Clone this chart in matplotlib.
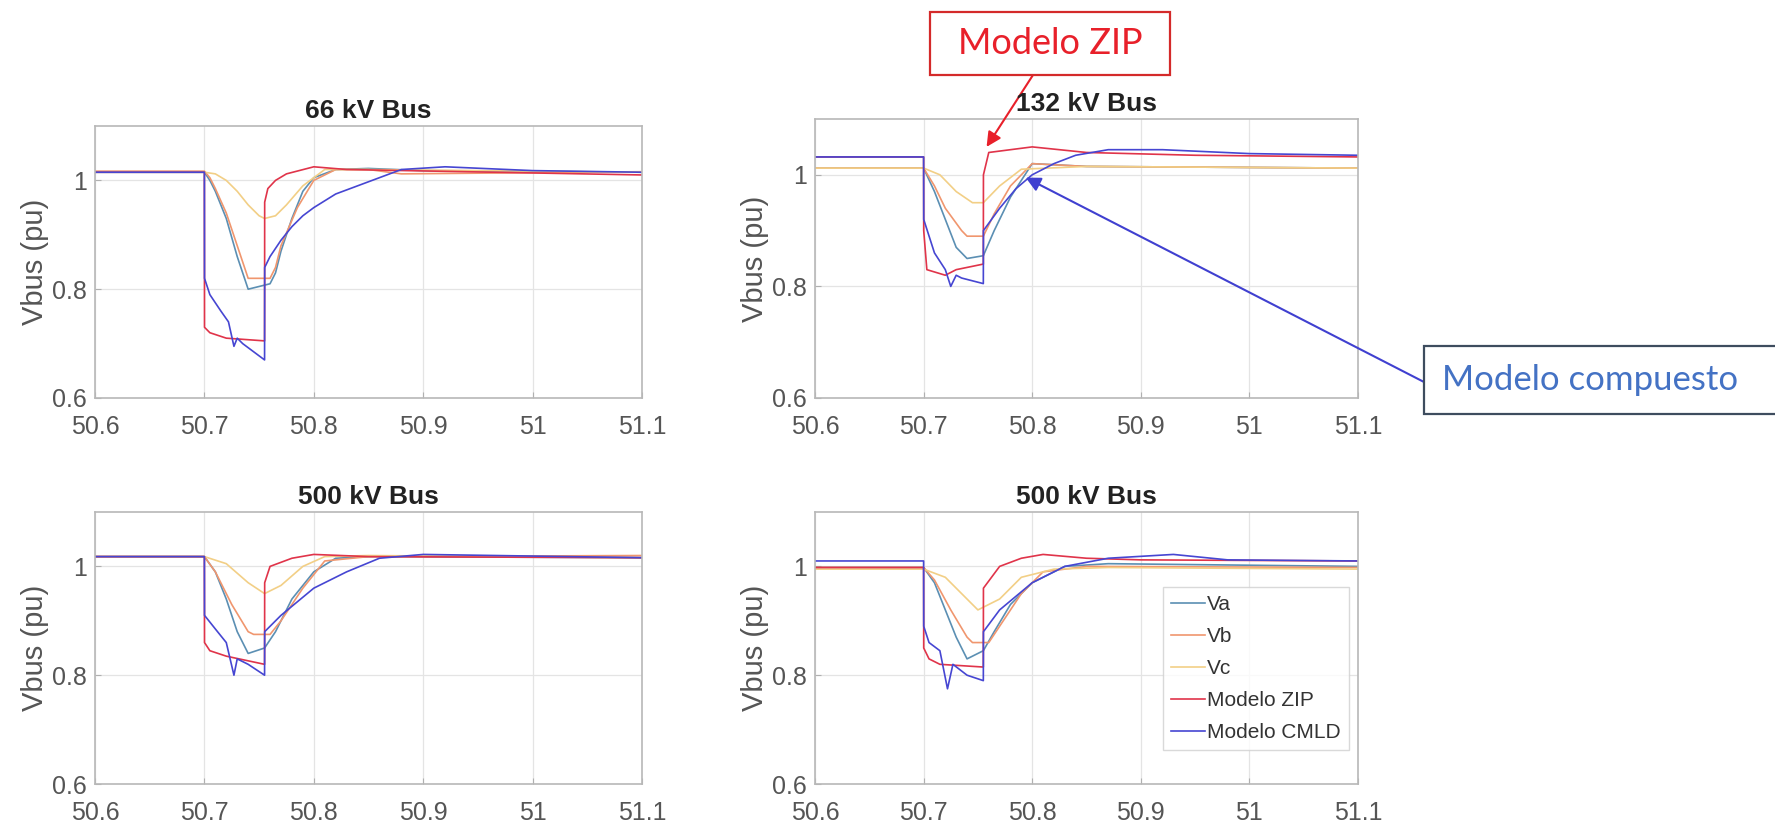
import numpy as np
import matplotlib
matplotlib.use("Agg")
import matplotlib.pyplot as plt
from matplotlib.patches import Rectangle

plt.rcParams['font.family'] = ['Liberation Sans', 'DejaVu Sans']

# series names and colours (legend order)
names = ['Va', 'Vb', 'Vc', 'Modelo ZIP', 'Modelo CMLD']
colors = ['#5b8fb3', '#f0966e', '#f2cf86', '#e0344a', '#4646d2']

# --- 66 kV bus ---
t66 = {
    'Va':   [50.6, 50.70, 50.705, 50.71, 50.72, 50.73, 50.735, 50.74, 50.76, 50.765, 50.77, 50.78, 50.79, 50.80, 50.82, 50.85, 50.90, 51.1],
    'Vb':   [50.6, 50.70, 50.705, 50.71, 50.72, 50.73, 50.735, 50.74, 50.76, 50.765, 50.77, 50.785, 50.80, 50.82, 50.85, 50.88, 51.1],
    'Vc':   [50.6, 50.70, 50.71, 50.72, 50.73, 50.74, 50.75, 50.755, 50.765, 50.775, 50.79, 50.81, 50.85, 51.1],
    'ZIP':  [50.6, 50.70, 50.7001, 50.705, 50.72, 50.755, 50.7551, 50.758, 50.765, 50.775, 50.80, 50.83, 51.1],
    'CMLD': [50.6, 50.70, 50.7001, 50.705, 50.715, 50.722, 50.727, 50.73, 50.735, 50.755, 50.7551, 50.76, 50.77, 50.78, 50.79, 50.80, 50.82, 50.84, 50.86, 50.88, 50.92, 51.0, 51.1],
}
v66 = {
    'Va':   [1.015, 1.015, 1.0, 0.98, 0.93, 0.86, 0.83, 0.80, 0.81, 0.83, 0.87, 0.93, 0.98, 1.005, 1.02, 1.022, 1.018, 1.015],
    'Vb':   [1.017, 1.017, 1.005, 0.985, 0.94, 0.88, 0.85, 0.82, 0.82, 0.84, 0.88, 0.95, 1.00, 1.02, 1.02, 1.012, 1.016],
    'Vc':   [1.015, 1.015, 1.012, 1.0, 0.98, 0.955, 0.935, 0.93, 0.935, 0.955, 0.99, 1.02, 1.02, 1.015],
    'ZIP':  [1.015, 1.015, 0.73, 0.72, 0.71, 0.705, 0.96, 0.985, 1.0, 1.012, 1.025, 1.02, 1.01],
    'CMLD': [1.015, 1.015, 0.82, 0.79, 0.76, 0.74, 0.695, 0.71, 0.70, 0.67, 0.84, 0.86, 0.89, 0.915, 0.935, 0.95, 0.975, 0.99, 1.005, 1.02, 1.025, 1.018, 1.015],
}

# --- 132 kV bus ---
t132 = {
    'Va':   [50.6, 50.70, 50.71, 50.72, 50.73, 50.74, 50.755, 50.765, 50.78, 50.80, 50.85, 51.1],
    'Vb':   [50.6, 50.70, 50.71, 50.72, 50.735, 50.74, 50.755, 50.765, 50.78, 50.80, 50.85, 51.1],
    'Vc':   [50.6, 50.70, 50.715, 50.73, 50.745, 50.755, 50.77, 50.79, 50.85, 51.1],
    'ZIP':  [50.6, 50.70, 50.7001, 50.703, 50.72, 50.73, 50.755, 50.7551, 50.76, 50.78, 50.80, 50.85, 50.95, 51.1],
    'CMLD': [50.6, 50.70, 50.7001, 50.71, 50.72, 50.725, 50.73, 50.735, 50.745, 50.755, 50.7551, 50.77, 50.785, 50.80, 50.82, 50.84, 50.87, 50.92, 51.0, 51.1],
}
v132 = {
    'Va':   [1.012, 1.012, 0.97, 0.92, 0.87, 0.85, 0.855, 0.90, 0.96, 1.02, 1.015, 1.012],
    'Vb':   [1.012, 1.012, 0.98, 0.94, 0.90, 0.89, 0.89, 0.93, 0.98, 1.02, 1.015, 1.012],
    'Vc':   [1.012, 1.012, 1.00, 0.97, 0.95, 0.95, 0.98, 1.01, 1.015, 1.012],
    'ZIP':  [1.032, 1.032, 0.90, 0.83, 0.82, 0.83, 0.84, 1.00, 1.04, 1.045, 1.05, 1.04, 1.035, 1.032],
    'CMLD': [1.032, 1.032, 0.92, 0.86, 0.83, 0.80, 0.82, 0.815, 0.81, 0.805, 0.90, 0.94, 0.975, 1.00, 1.02, 1.035, 1.045, 1.045, 1.038, 1.035],
}

# --- 500 kV bus (left) ---
t500a = {
    'Va':   [50.6, 50.70, 50.71, 50.72, 50.73, 50.74, 50.755, 50.765, 50.78, 50.80, 50.82, 50.85, 51.1],
    'Vb':   [50.6, 50.70, 50.71, 50.725, 50.74, 50.745, 50.76, 50.77, 50.79, 50.81, 50.85, 51.1],
    'Vc':   [50.6, 50.70, 50.72, 50.74, 50.755, 50.77, 50.79, 50.81, 50.85, 51.1],
    'ZIP':  [50.6, 50.70, 50.7001, 50.705, 50.72, 50.755, 50.7551, 50.76, 50.78, 50.80, 50.85, 51.1],
    'CMLD': [50.6, 50.70, 50.7001, 50.71, 50.72, 50.727, 50.73, 50.74, 50.755, 50.7551, 50.77, 50.80, 50.83, 50.86, 50.90, 51.1],
}
v500a = {
    'Va':   [1.018, 1.018, 0.99, 0.94, 0.88, 0.84, 0.85, 0.88, 0.94, 0.99, 1.015, 1.018, 1.016],
    'Vb':   [1.018, 1.018, 0.99, 0.93, 0.88, 0.875, 0.875, 0.90, 0.96, 1.01, 1.018, 1.02],
    'Vc':   [1.018, 1.018, 1.005, 0.97, 0.95, 0.965, 1.00, 1.018, 1.02, 1.016],
    'ZIP':  [1.018, 1.018, 0.86, 0.845, 0.835, 0.82, 0.97, 1.00, 1.015, 1.022, 1.018, 1.016],
    'CMLD': [1.018, 1.018, 0.91, 0.885, 0.86, 0.80, 0.83, 0.82, 0.80, 0.88, 0.91, 0.96, 0.99, 1.015, 1.022, 1.016],
}

# --- 500 kV bus (right) ---
t500b = {
    'Va':   [50.6, 50.70, 50.71, 50.72, 50.73, 50.74, 50.755, 50.765, 50.78, 50.80, 50.83, 50.87, 51.1],
    'Vb':   [50.6, 50.70, 50.71, 50.725, 50.74, 50.745, 50.76, 50.77, 50.79, 50.81, 50.85, 51.1],
    'Vc':   [50.6, 50.70, 50.72, 50.74, 50.75, 50.77, 50.79, 50.82, 50.87, 51.1],
    'ZIP':  [50.6, 50.70, 50.7001, 50.705, 50.715, 50.755, 50.7551, 50.77, 50.79, 50.81, 50.85, 50.90, 51.1],
    'CMLD': [50.6, 50.70, 50.7001, 50.705, 50.715, 50.722, 50.727, 50.74, 50.755, 50.7551, 50.77, 50.80, 50.83, 50.87, 50.93, 50.98, 51.1],
}
v500b = {
    'Va':   [0.998, 0.998, 0.97, 0.92, 0.87, 0.83, 0.845, 0.88, 0.93, 0.97, 1.0, 1.005, 1.0],
    'Vb':   [0.998, 0.998, 0.975, 0.92, 0.87, 0.86, 0.86, 0.89, 0.95, 0.99, 1.0, 0.998],
    'Vc':   [0.995, 0.995, 0.98, 0.94, 0.92, 0.94, 0.98, 0.995, 0.998, 0.995],
    'ZIP':  [0.998, 0.998, 0.85, 0.83, 0.82, 0.815, 0.96, 1.0, 1.015, 1.022, 1.015, 1.012, 1.01],
    'CMLD': [1.01, 1.01, 0.89, 0.86, 0.845, 0.775, 0.82, 0.80, 0.79, 0.88, 0.92, 0.97, 1.0, 1.015, 1.022, 1.012, 1.01],
}

titles = ['66 kV Bus', '132 kV Bus', '500 kV Bus', '500 kV Bus']
panel_t = [t66, t132, t500a, t500b]
panel_v = [v66, v132, v500a, v500b]
keys = ['Va', 'Vb', 'Vc', 'ZIP', 'CMLD']
xticks = [50.6, 50.7, 50.8, 50.9, 51.0, 51.1]
xticklabels = ['50.6', '50.7', '50.8', '50.9', '51', '51.1']
yticks = [0.6, 0.8, 1.0]
yticklabels = ['0.6', '0.8', '1']

W, H = 1775, 826
fig = plt.figure(figsize=(W / 100, H / 100), dpi=100)

# axes boxes in pixels: left, top, right, bottom
boxes = [(95, 126, 642, 398), (815, 119, 1358, 398),
         (95, 512, 642, 784), (815, 512, 1358, 784)]

axes = []
for i, (l, t, r, b) in enumerate(boxes):
    ax = fig.add_axes([l / W, 1 - b / H, (r - l) / W, (b - t) / H])
    for k, c in zip(keys, colors):
        ax.plot(panel_t[i][k], panel_v[i][k], color=c, lw=1.2)
    ax.set_xlim(50.6, 51.1)
    ax.set_ylim(0.6, 1.1)
    ax.set_xticks(xticks)
    ax.set_xticklabels(xticklabels)
    ax.set_yticks(yticks)
    ax.set_yticklabels(yticklabels)
    ax.grid(True, color='#e4e4e4', lw=0.9)
    ax.tick_params(direction='in', length=4, color='#b0b0b0', labelsize=18,
                   labelcolor='#555555')
    ax.tick_params(axis='x', pad=12)
    ax.tick_params(axis='y', pad=6)
    for s in ax.spines.values():
        s.set_color('#b8b8b8')
        s.set_linewidth(1.2)
    ax.set_ylabel('Vbus (pu)', fontsize=21, color='#555555', labelpad=2)
    ax.set_title(titles[i], fontsize=19, fontweight='bold', color='#222222', pad=6)
    axes.append(ax)

# legend on the last panel
leg = axes[3].legend(names, loc='upper left', bbox_to_anchor=(0.641, 0.724),
                     fontsize=15, frameon=True, fancybox=False, handlelength=1.6,
                     handletextpad=0.1, labelspacing=0.62, borderpad=0.4,
                     borderaxespad=0)
leg.get_frame().set_edgecolor('#d0d0d0')
for txt in leg.get_texts():
    txt.set_color('#333333')

# "Modelo ZIP" callout
fig.add_artist(Rectangle((930 / W, 1 - 75 / H), 240 / W, 63 / H, transform=fig.transFigure,
                         facecolor='white', edgecolor='#d42a2a', lw=1.6))
fig.text(1050 / W, 1 - 44 / H, 'Modelo ZIP', fontsize=26, color='#e8202a',
         family=['Lato', 'DejaVu Sans'], ha='center', va='center')
axes[1].annotate('', xy=(50.758, 1.05), xycoords='data',
                 xytext=(1033 / W, 1 - 75 / H), textcoords='figure fraction',
                 arrowprops=dict(arrowstyle='-|>', color='#e8202a', lw=1.5,
                                 mutation_scale=22, shrinkA=0, shrinkB=0))

# "Modelo compuesto" callout
fig.add_artist(Rectangle((1424 / W, 1 - 414 / H), 400 / W, 68 / H, transform=fig.transFigure,
                         facecolor='white', edgecolor='#3e4c5e', lw=1.6, clip_on=False))
fig.text(1442 / W, 1 - 380 / H, 'Modelo compuesto', fontsize=25, color='#4472c4',
         family=['Lato', 'DejaVu Sans'], ha='left', va='center')
axes[1].annotate('', xy=(50.794, 0.995), xycoords='data',
                 xytext=(1424 / W, 1 - 382 / H), textcoords='figure fraction',
                 arrowprops=dict(arrowstyle='-|>', color='#4040d0', lw=1.5,
                                 mutation_scale=22, shrinkA=0, shrinkB=0))

fig.savefig('out.png', dpi=100, facecolor='white')
